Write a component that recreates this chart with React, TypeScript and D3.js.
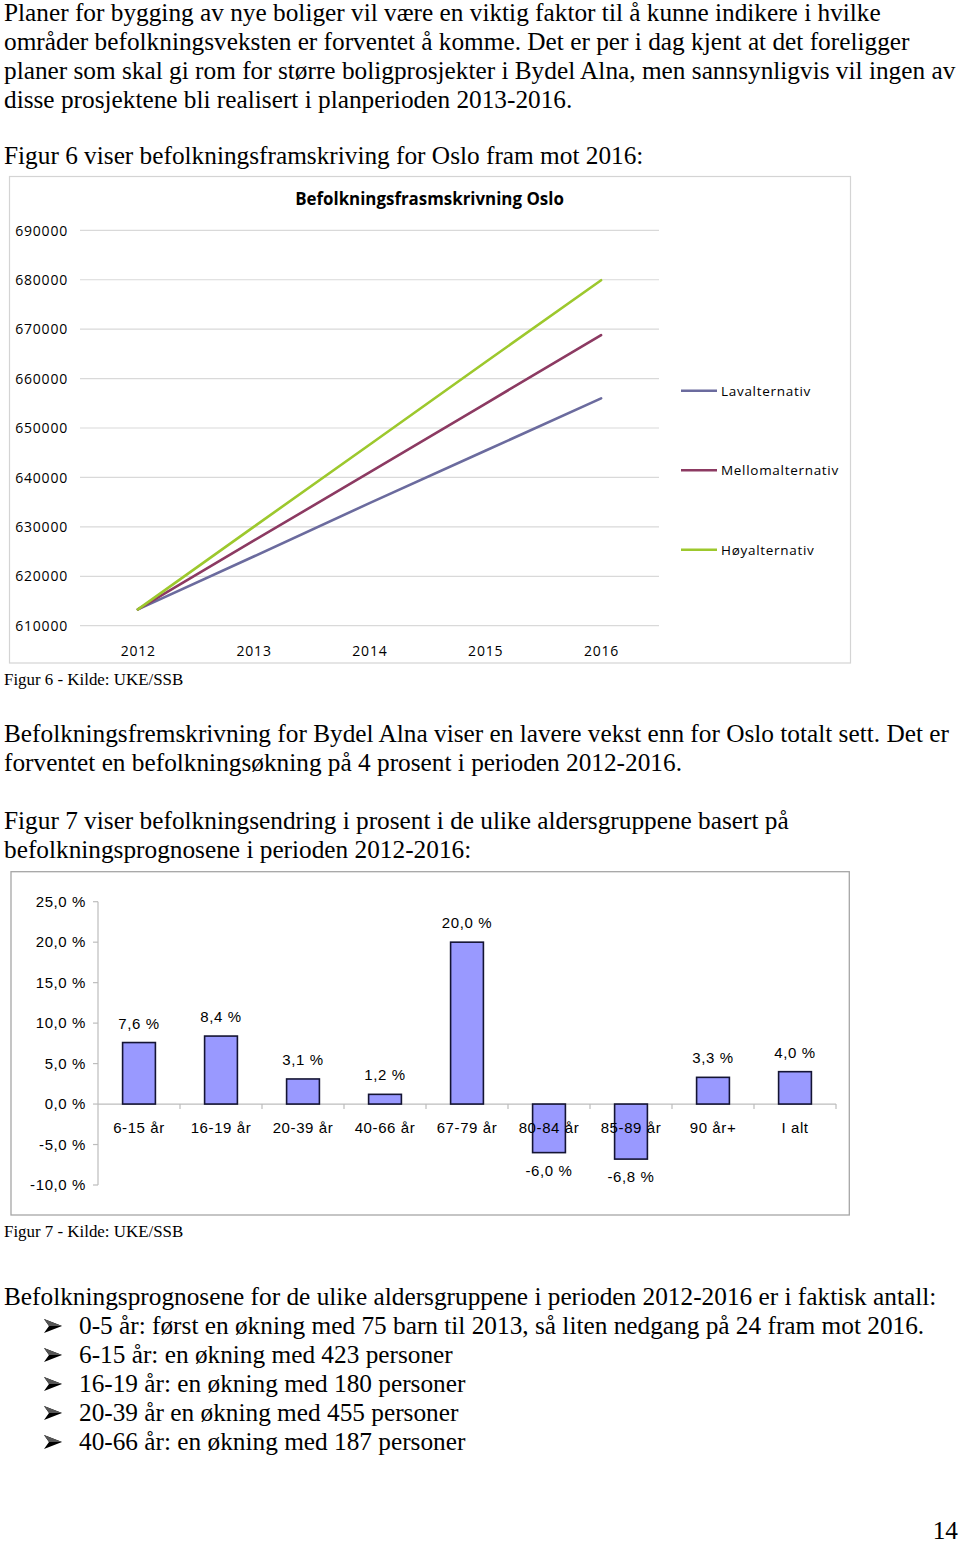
import React from "react";
import * as d3 from "d3";

// ---------- text content ----------
const introLines = [
  "Planer for bygging av nye boliger vil være en viktig faktor til å kunne indikere i hvilke",
  "områder befolkningsveksten er forventet å komme. Det er per i dag kjent at det foreligger",
  "planer som skal gi rom for større boligprosjekter i Bydel Alna, men sannsynligvis vil ingen av",
  "disse prosjektene bli realisert i planperioden 2013-2016.",
];
const fig6Intro = "Figur 6 viser befolkningsframskriving for Oslo fram mot 2016:";
const fig6Caption = "Figur 6 - Kilde: UKE/SSB";
const midLines = [
  "Befolkningsfremskrivning for Bydel Alna viser en lavere vekst enn for Oslo totalt sett. Det er",
  "forventet en befolkningsøkning på 4 prosent i perioden 2012-2016.",
];
const fig7IntroLines = [
  "Figur 7 viser befolkningsendring i prosent i de ulike aldersgruppene basert på",
  "befolkningsprognosene i perioden 2012-2016:",
];
const fig7Caption = "Figur 7 - Kilde: UKE/SSB";
const bottomLead = "Befolkningsprognosene for de ulike aldersgruppene i perioden 2012-2016 er i faktisk antall:";
const bullets = [
  "0-5 år: først en økning med 75 barn til 2013, så liten nedgang på 24 fram mot 2016.",
  "6-15 år: en økning med 423 personer",
  "16-19 år: en økning med 180 personer",
  "20-39 år en økning med 455 personer",
  "40-66 år: en økning med 187 personer",
];
const pageNumber = "14";

// ---------- chart 1 data ----------
const chart1Title = "Befolkningsfrasmskrivning Oslo";
const years = ["2012", "2013", "2014", "2015", "2016"];
const lavalternativ = [613300, 624000, 634800, 645400, 656000];
const mellomalternativ = [613300, 627200, 641000, 654900, 668800];
const hoyalternativ = [613300, 630000, 646600, 663300, 679900];
const seriesNames = ["Lavalternativ", "Mellomalternativ", "Høyalternativ"];
const seriesColors = ["#6b6b9e", "#8c3a62", "#9dc82d"];
const yTicks1 = [610000, 620000, 630000, 640000, 650000, 660000, 670000, 680000, 690000];

// ---------- chart 2 data ----------
const ageGroups = ["6-15 år", "16-19 år", "20-39 år", "40-66 år", "67-79 år", "80-84 år", "85-89 år", "90 år+", "I alt"];
const changePct = [7.6, 8.4, 3.1, 1.2, 20.0, -6.0, -6.8, 3.3, 4.0];
const yTicks2 = [-10, -5, 0, 5, 10, 15, 20, 25];

const serif = "'Liberation Serif', 'Times New Roman', serif";
const sans = "'Open Sans', sans-serif";
const arial = "'Liberation Sans', Arial, sans-serif";

const fmtPct = (v: number) => d3.format(".1f")(v).replace(".", ",").replace("−", "-") + " %";

function Chart1() {
  const x = d3.scalePoint<string>().domain(years).range([80, 659]).padding(0.5);
  const y = d3.scaleLinear().domain([610000, 690000]).range([625.7, 230.3]);
  const allSeries = [lavalternativ, mellomalternativ, hoyalternativ];
  const line = d3
    .line<number>()
    .x((_, i) => x(years[i]) as number)
    .y((d) => y(d));
  const legendY = [390.7, 470.3, 549.7];
  return (
    <g>
      <rect x={9.5} y={176.5} width={841} height={486.5} fill="#fff" stroke="#d4d4d4" strokeWidth={1.2} />
      <text x={429.5} y={205} textAnchor="middle" fontFamily={sans} fontWeight={700} fontSize={16.9} fill="#000">
        {chart1Title}
      </text>
      {yTicks1.map((t) => (
        <g key={t}>
          <line x1={80} x2={659} y1={y(t)} y2={y(t)} stroke="#d9d9d9" strokeWidth={1.2} />
          <text x={68} y={y(t) + 5.2} textAnchor="end" fontFamily={sans} fontSize={14} letterSpacing={0.8} fill="#000">
            {t}
          </text>
        </g>
      ))}
      {years.map((yr) => (
        <text key={yr} x={(x(yr) as number) + 0.4} y={656} textAnchor="middle" fontFamily={sans} fontSize={14} letterSpacing={0.8} fill="#000">
          {yr}
        </text>
      ))}
      {allSeries.map((s, i) => (
        <path key={i} d={line(s) as string} fill="none" stroke={seriesColors[i]} strokeWidth={2.6} strokeLinecap="round" />
      ))}
      {seriesNames.map((n, i) => (
        <g key={n}>
          <line x1={681} x2={717} y1={legendY[i]} y2={legendY[i]} stroke={seriesColors[i]} strokeWidth={2.6} />
          <text x={721} y={legendY[i] + 4.8} fontFamily={sans} fontSize={13.5} letterSpacing={0.7} fill="#000">
            {n}
          </text>
        </g>
      ))}
    </g>
  );
}

function Chart2() {
  const x = d3.scaleBand<string>().domain(ageGroups).range([98, 836]).paddingInner(0.6).paddingOuter(0.3);
  const y = d3.scaleLinear().domain([-10, 25]).range([1185, 901.7]);
  const y0 = y(0);
  const step = x.step();
  const [r0] = x.range();
  return (
    <g>
      <rect x={11} y={871.7} width={838.3} height={343.3} fill="#fff" stroke="#a6a6a6" strokeWidth={1.3} />
      <line x1={98} x2={98} y1={y(25)} y2={y(-10)} stroke="#bdbdbd" strokeWidth={1.2} />
      {yTicks2.map((t) => (
        <g key={t}>
          <line x1={93} x2={98} y1={y(t)} y2={y(t)} stroke="#bdbdbd" strokeWidth={1.2} />
          <text x={86} y={y(t) + 5} textAnchor="end" fontFamily={arial} fontSize={15} letterSpacing={0.6} fill="#000">
            {fmtPct(t)}
          </text>
        </g>
      ))}
      <line x1={98} x2={836} y1={y0} y2={y0} stroke="#bdbdbd" strokeWidth={1.2} />
      {ageGroups.map((_, i) => (
        <line key={i} x1={r0 + (i + 1) * step} x2={r0 + (i + 1) * step} y1={y0} y2={y0 + 5} stroke="#bdbdbd" strokeWidth={1.2} />
      ))}
      {ageGroups.map((g, i) => {
        const v = changePct[i];
        const top = Math.min(y(v), y0);
        const h = Math.abs(y(v) - y0);
        return (
          <rect key={g} x={x(g)} y={top} width={x.bandwidth()} height={h} fill="#9999ff" stroke="#141433" strokeWidth={1.6} />
        );
      })}
      {ageGroups.map((g, i) => {
        const cx = (x(g) as number) + x.bandwidth() / 2;
        const v = changePct[i];
        const ly = v >= 0 ? y(v) - 14 : y(v) + 23;
        return (
          <g key={g}>
            <text x={cx} y={y0 + 29} textAnchor="middle" fontFamily={arial} fontSize={15} letterSpacing={0.6} fill="#000">
              {g}
            </text>
            <text x={cx} y={ly} textAnchor="middle" fontFamily={arial} fontSize={15} letterSpacing={0.6} fill="#000">
              {fmtPct(v)}
            </text>
          </g>
        );
      })}
    </g>
  );
}

function Arrow({ x, y }: { x: number; y: number }) {
  return (
    <g transform={`translate(${x},${y})`}>
      <path d="M0,-14 L18,-7 L0,0 L5,-7 Z" fill="#000" />
      <path d="M0,-14 L18,-7 L5,-7 Z" fill="#555" />
    </g>
  );
}

export default function App() {
  const bodyProps = { fontFamily: serif, fontSize: 25.3, fill: "#000" };
  return (
    <svg
      width={960}
      height={1543}
      style={{ position: "absolute", left: 0, top: 0, background: "#fff" }}
      xmlns="http://www.w3.org/2000/svg"
    >
      <rect x={0} y={0} width={960} height={1543} fill="#fff" />
      {introLines.map((l, i) => (
        <text key={i} x={4} y={21 + i * 29} {...bodyProps}>
          {l}
        </text>
      ))}
      <text x={4} y={164} {...bodyProps}>
        {fig6Intro}
      </text>
      <Chart1 />
      <text x={4} y={685} fontFamily={serif} fontSize={16.9} fill="#000">
        {fig6Caption}
      </text>
      {midLines.map((l, i) => (
        <text key={i} x={4} y={742 + i * 29} {...bodyProps}>
          {l}
        </text>
      ))}
      {fig7IntroLines.map((l, i) => (
        <text key={i} x={4} y={829 + i * 29} {...bodyProps}>
          {l}
        </text>
      ))}
      <Chart2 />
      <text x={4} y={1237} fontFamily={serif} fontSize={16.9} fill="#000">
        {fig7Caption}
      </text>
      <text x={4} y={1305} {...bodyProps}>
        {bottomLead}
      </text>
      {bullets.map((b, i) => (
        <g key={i}>
          <Arrow x={44} y={1333 + i * 29} />
          <text x={79} y={1334 + i * 29} {...bodyProps}>
            {b}
          </text>
        </g>
      ))}
      <text x={958} y={1539} textAnchor="end" {...bodyProps}>
        {pageNumber}
      </text>
    </svg>
  );
}
